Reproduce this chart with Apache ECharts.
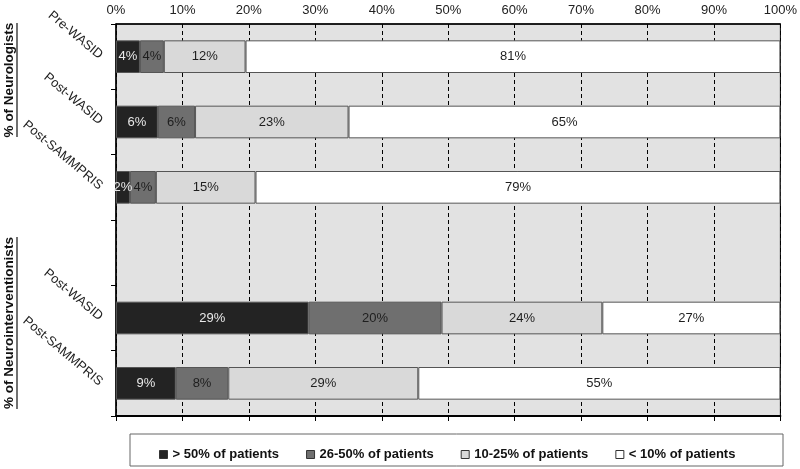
<!DOCTYPE html>
<html>
<head>
<meta charset="utf-8">
<script src="https://cdn.jsdelivr.net/npm/echarts@6/dist/echarts.min.js"></script>
<style>
    html, body { margin: 0; padding: 0; background: #fff; }
    #chart { width: 800px; height: 469px; }
</style>
</head>
<body>
<div id="chart"></div>
<script>
// rows top to bottom, the empty row separates the two groups
const categories = ['Pre-WASID', 'Post-WASID', 'Post-SAMMPRIS', '', 'Post-WASID', 'Post-SAMMPRIS']
const seriesNames = ['> 50% of patients', '26-50% of patients', '10-25% of patients', '< 10% of patients']
const over50 = [3.6, 6.3, 2.1, null, 29.0, 9.0]
const from26to50 = [3.6, 5.6, 3.9, null, 20.0, 7.9]
const from10to25 = [12.3, 23.1, 15.0, null, 24.2, 28.6]
const under10 = [80.5, 65.0, 79.0, null, 26.8, 54.5]
const xTicks = [0, 10, 20, 30, 40, 50, 60, 70, 80, 90, 100]

const fills = ['#232323', '#6f6f6f', '#d9d9d9', '#ffffff']
const labelColors = ['#e8e8e8', '#1e1e1e', '#1e1e1e', '#1e1e1e']
const values = [over50, from26to50, from10to25, under10]

const chart = echarts.init(document.getElementById('chart'))

const series = values.map(function (arr, i) {
    return {
        name: seriesNames[i],
        type: 'bar',
        stack: 'total',
        barWidth: '50%',
        data: arr,
        itemStyle: {
            color: fills[i],
            borderColor: '#555',
            borderWidth: 1
        },
        label: {
            show: true,
            position: 'inside',
            color: labelColors[i],
            fontFamily: 'Arial, Liberation Sans',
            fontSize: 13,
            formatter: function (p) {
                return Math.round(p.value) + '%'
            }
        },
        emphasis: { disabled: true }
    }
})

chart.setOption({
    animation: false,
    textStyle: { fontFamily: 'Arial, Liberation Sans' },
    grid: {
        left: 116,
        right: 17,
        top: 24,
        bottom: 53,
        show: true,
        backgroundColor: '#e2e2e2',
        borderColor: '#000',
        borderWidth: 1
    },
    legend: {
        left: 154,
        top: 443,
        itemWidth: 8,
        itemHeight: 8,
        itemGap: 27,
        icon: 'rect',
        selectedMode: false,
        textStyle: {
            fontFamily: 'Arial, Liberation Sans',
            fontWeight: 'bold',
            fontSize: 13,
            color: '#111'
        },
        data: seriesNames.map(function (n, i) {
            return { name: n, itemStyle: { borderColor: '#333', borderWidth: 1 } }
        })
    },
    xAxis: [{
        type: 'value',
        position: 'top',
        min: 0,
        max: 100,
        interval: 10,
        axisLine: { show: true, lineStyle: { color: '#000', width: 1.5 } },
        axisTick: { show: false },
        axisLabel: {
            margin: 7,
            color: '#222',
            fontSize: 13,
            formatter: function (v) { return xTicks.indexOf(v) >= 0 ? v + '%' : '' }
        },
        splitLine: {
            show: true,
            lineStyle: { color: '#000', type: [4, 3], width: 1 }
        }
    }, {
        type: 'value',
        position: 'bottom',
        min: 0,
        max: 100,
        interval: 10,
        axisLine: { show: true, lineStyle: { color: '#000', width: 2 } },
        axisTick: { show: true, inside: false, length: 5, lineStyle: { color: '#000' } },
        axisLabel: { show: false },
        splitLine: { show: false }
    }],
    yAxis: {
        type: 'category',
        inverse: true,
        data: categories,
        axisLine: { show: true, lineStyle: { color: '#000', width: 1.5 } },
        axisTick: { show: true, length: 5, lineStyle: { color: '#000' } },
        axisLabel: {
            rotate: -40,
            margin: 15,
            color: '#222',
            fontSize: 13,
            interval: 0
        },
        splitLine: { show: false }
    },
    series: series,
    graphic: [
        {
            type: 'rect',
            z: -1,
            shape: { x: 130, y: 434, width: 653, height: 32 },
            style: { fill: '#fff', stroke: '#666', lineWidth: 1 }
        },
        {
            type: 'text',
            x: 9,
            y: 80,
            rotation: Math.PI / 2,
            style: {
                text: '% of Neurologists',
                fontFamily: 'Arial, Liberation Sans',
                fontWeight: 'bold',
                fontSize: 13.5,
                fill: '#111',
                align: 'center',
                verticalAlign: 'middle'
            }
        },
        {
            type: 'line',
            shape: { x1: 17, y1: 23, x2: 17, y2: 137 },
            style: { stroke: '#111', lineWidth: 1.2 }
        },
        {
            type: 'text',
            x: 9,
            y: 323,
            rotation: Math.PI / 2,
            style: {
                text: '% of Neurointerventionists',
                fontFamily: 'Arial, Liberation Sans',
                fontWeight: 'bold',
                fontSize: 13.5,
                fill: '#111',
                align: 'center',
                verticalAlign: 'middle'
            }
        },
        {
            type: 'line',
            shape: { x1: 17, y1: 237, x2: 17, y2: 409 },
            style: { stroke: '#111', lineWidth: 1.2 }
        }
    ]
})
</script>
</body>
</html>
